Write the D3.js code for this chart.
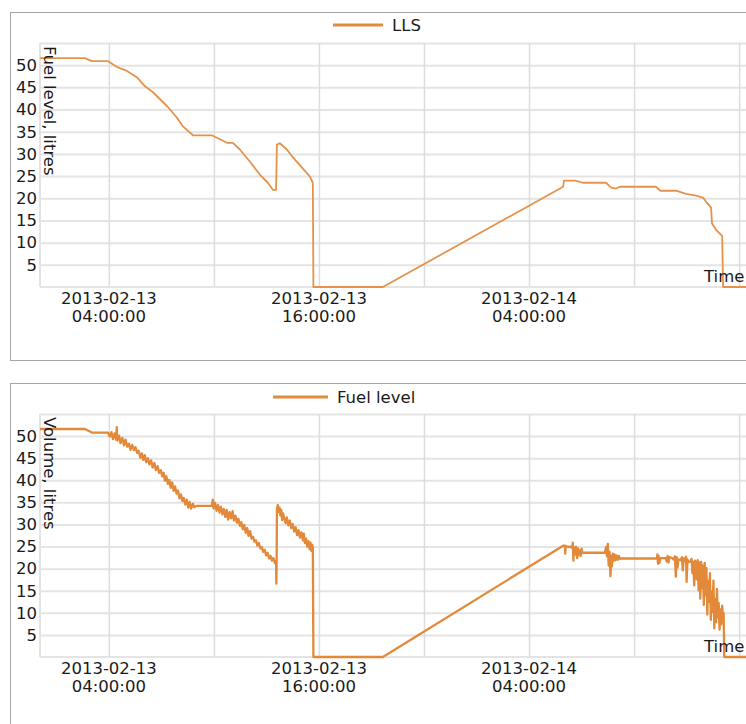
<!DOCTYPE html>
<html>
<head>
<meta charset="utf-8">
<script src="https://cdn.jsdelivr.net/npm/d3@7"></script>
<style>
  html, body { margin: 0; background: #fff; overflow: hidden; }
  svg { display: block; font-family: "DejaVu Sans", Verdana, sans-serif; }
</style>
</head>
<body>
<svg id="chart" width="746" height="724"></svg>
<script>
// Times are minutes after 2013-02-13 00:00, values are litres.
const llsSeries = [
  [4, 51.6], [158, 51.6], [182, 50.9], [237, 50.9], [271, 49.5], [302, 48.7],
  [336, 47.3], [363, 45.3], [391, 43.9], [439, 40.8], [473, 38.2], [494, 36.2],
  [528, 34.2], [593, 34.2], [621, 33.3], [645, 32.5], [665, 32.5], [689, 31.0],
  [723, 28.3], [758, 25.3], [785, 23.5], [802, 21.9], [813, 21.9], [816, 32.1],
  [826, 32.4], [850, 31.0], [871, 29.2], [902, 26.9], [929, 24.9], [939, 23.5],
  [941, 0], [1179, 0], [1797, 22.6], [1800, 24.0], [1838, 24.0], [1865, 23.5],
  [1944, 23.5], [1961, 22.4], [1978, 22.2], [1992, 22.6], [2115, 22.6], [2129, 21.7],
  [2184, 21.7], [2218, 21.0], [2253, 20.6], [2277, 20.1], [2287, 19.2], [2304, 17.9],
  [2307, 14.3], [2321, 12.9], [2342, 11.5], [2345, 0], [2475, 0]
];

const fuelSeries = [
  [4, 51.6], [158, 51.6], [182, 50.8], [237, 50.8], [243, 49.9], [249, 50.9],
  [254, 49.3], [260, 50.6], [265, 49.2], [267, 52.0], [269, 49.0], [275, 50.1],
  [280, 48.4], [286, 49.6], [292, 47.9], [297, 49.2], [303, 47.6], [309, 48.3],
  [314, 46.9], [320, 48.0], [326, 46.8], [331, 47.5], [337, 46.2], [342, 46.7],
  [348, 45.1], [353, 46.1], [358, 44.6], [363, 45.7], [368, 44.1], [374, 45.0],
  [379, 43.6], [385, 44.5], [390, 42.9], [396, 43.9], [401, 42.3], [407, 43.2],
  [412, 41.7], [418, 42.3], [423, 40.9], [428, 41.7], [432, 39.9], [437, 40.9],
  [442, 39.2], [447, 40.1], [452, 38.3], [457, 39.5], [462, 37.6], [467, 38.6],
  [472, 37.0], [477, 37.7], [482, 35.9], [487, 36.8], [492, 35.3], [497, 36.0],
  [502, 34.5], [507, 35.6], [512, 33.8], [517, 35.1], [522, 33.6], [528, 34.7],
  [533, 33.9], [540, 34.2], [593, 34.2], [596, 35.6], [599, 33.6], [604, 34.9],
  [609, 33.1], [614, 34.4], [619, 32.7], [624, 34.0], [629, 32.3], [634, 33.5],
  [639, 31.7], [644, 33.3], [649, 31.1], [654, 32.8], [659, 31.4], [664, 33.0],
  [669, 30.9], [674, 32.0], [679, 30.4], [684, 31.3], [689, 29.7], [694, 30.5],
  [699, 28.9], [704, 29.9], [709, 28.1], [714, 29.2], [719, 27.4], [724, 28.5],
  [729, 26.8], [734, 27.2], [739, 26.1], [744, 26.4], [749, 25.2], [754, 25.8],
  [759, 24.6], [764, 24.9], [769, 23.8], [774, 24.3], [779, 23.0], [784, 23.6],
  [789, 22.3], [794, 22.9], [799, 21.8], [804, 22.4], [809, 21.3], [813, 21.8],
  [814, 16.6], [815, 21.2], [816, 33.5], [819, 34.4], [822, 32.8], [825, 33.8],
  [828, 32.0], [831, 33.3], [834, 31.0], [837, 32.5], [842, 31.2], [846, 30.3],
  [850, 31.6], [855, 29.8], [860, 30.9], [865, 29.2], [870, 30.1], [875, 28.4],
  [880, 29.4], [885, 27.6], [890, 28.7], [895, 27.0], [900, 28.2], [905, 26.4],
  [908, 27.9], [912, 25.8], [916, 26.8], [920, 25.0], [924, 26.2], [928, 24.4],
  [931, 25.9], [934, 24.0], [937, 25.4], [939, 24.9], [941, 0], [1179, 0],
  [1797, 25.2], [1803, 25.2], [1804, 23.4], [1806, 25.1], [1815, 24.9], [1822, 25.0],
  [1828, 24.6], [1830, 25.9], [1832, 21.8], [1834, 24.8], [1838, 23.2], [1841, 25.0],
  [1845, 22.4], [1848, 24.6], [1851, 23.2], [1854, 24.1], [1857, 22.9], [1860, 24.5],
  [1863, 23.6], [1866, 23.6], [1940, 23.6], [1944, 24.9], [1947, 22.8], [1950, 25.6],
  [1953, 20.7], [1956, 23.8], [1959, 18.3], [1962, 22.9], [1964, 20.5], [1967, 23.4],
  [1970, 21.8], [1973, 23.2], [1976, 21.9], [1980, 23.0], [1984, 22.0], [1988, 22.9],
  [1992, 22.2], [1997, 22.3], [2118, 22.3], [2120, 23.2], [2122, 21.1], [2124, 22.9],
  [2127, 21.3], [2130, 22.4], [2148, 22.4], [2152, 21.6], [2155, 22.9], [2158, 21.4],
  [2161, 22.6], [2170, 22.4], [2176, 22.0], [2180, 22.8], [2183, 18.2], [2186, 22.6],
  [2189, 20.3], [2192, 22.1], [2200, 21.9], [2204, 22.6], [2207, 19.6], [2210, 22.3],
  [2214, 21.8], [2218, 22.7], [2220, 17.0], [2223, 22.1], [2226, 21.5], [2233, 21.6],
  [2237, 22.2], [2240, 19.0], [2243, 21.5], [2246, 16.2], [2249, 21.8], [2252, 21.2],
  [2255, 17.6], [2258, 21.9], [2261, 15.1], [2264, 21.4], [2267, 13.2], [2270, 21.5],
  [2273, 15.6], [2276, 20.7], [2279, 11.8], [2282, 21.3], [2285, 14.0], [2288, 20.1],
  [2291, 9.6], [2294, 17.2], [2297, 12.5], [2300, 19.0], [2303, 8.4], [2306, 14.8],
  [2309, 10.2], [2312, 17.3], [2315, 6.5], [2318, 13.1], [2321, 7.9], [2324, 15.4],
  [2327, 9.0], [2330, 12.2], [2333, 6.2], [2336, 10.8], [2339, 7.4], [2342, 11.6],
  [2345, 8.3], [2347, 9.9], [2349, 0], [2475, 0]
];

const yTickValues = [5, 10, 15, 20, 25, 30, 35, 40, 45, 50];
const yGridValues = [5, 10, 15, 20, 25, 30, 35, 40, 45, 50, 55];
const xGridTimes = [
  "2013-02-13 04:00", "2013-02-13 10:00", "2013-02-13 16:00", "2013-02-13 22:00",
  "2013-02-14 04:00", "2013-02-14 10:00", "2013-02-14 16:00"
];
const xLabelTimes = ["2013-02-13 04:00", "2013-02-13 16:00", "2013-02-14 04:00"];
const xDomain = ["2013-02-13 00:04", "2013-02-14 17:15"];

const parseTime = d3.timeParse("%Y-%m-%d %H:%M");
const dayStart = new Date(2013, 1, 13, 0, 0);
const atMinute = m => new Date(dayStart.getTime() + m * 60000);

const ORANGE = "#e3893a";
const FONT = 16.5;
const svg = d3.select("#chart");

function drawPanel(cfg) {
  const g = svg.append("g");

  // frame
  g.append("rect")
    .attr("x", 10.5).attr("y", cfg.frameTop + 0.5)
    .attr("width", 900).attr("height", cfg.frameHeight)
    .attr("fill", "#fff").attr("stroke", "#a6a6a6").attr("stroke-width", 1);

  const x = d3.scaleTime()
    .domain(xDomain.map(parseTime))
    .range([40, 761]);
  const y = d3.scaleLinear()
    .domain([0, 55])
    .range([cfg.plotBottom, cfg.plotTop]);

  // horizontal grid
  g.append("g")
    .attr("transform", "translate(40,0)")
    .call(d3.axisLeft(y).tickValues(yGridValues).tickSize(-760).tickFormat(""))
    .call(a => a.select(".domain").remove())
    .call(a => a.selectAll("line").attr("stroke", "#e4e4e4").attr("stroke-width", 2));

  // vertical grid
  g.append("g")
    .attr("transform", `translate(0,${cfg.plotBottom})`)
    .call(d3.axisBottom(x).tickValues(xGridTimes.map(parseTime))
      .tickSize(-(cfg.plotBottom - cfg.plotTop)).tickFormat(""))
    .call(a => a.select(".domain").remove())
    .call(a => a.selectAll("line").attr("stroke", "#dddddd").attr("stroke-width", 1.5));

  // plot edges
  g.append("line").attr("x1", 40).attr("x2", 40)
    .attr("y1", cfg.plotTop).attr("y2", cfg.plotBottom)
    .attr("stroke", "#e4e4e4").attr("stroke-width", 2);
  g.append("line").attr("x1", 40).attr("x2", 800)
    .attr("y1", cfg.plotBottom).attr("y2", cfg.plotBottom)
    .attr("stroke", "#e4e4e4").attr("stroke-width", 2);

  // y tick labels
  g.append("g")
    .attr("transform", "translate(40,0)")
    .call(d3.axisLeft(y).tickValues(yTickValues).tickSize(0).tickPadding(3))
    .call(a => a.select(".domain").remove())
    .call(a => a.selectAll("text")
      .attr("font-size", FONT).attr("font-family", "DejaVu Sans, sans-serif")
      .attr("fill", "#1a1a1a"));

  // x tick labels, date over time
  const fmtDate = d3.timeFormat("%Y-%m-%d");
  const fmtClock = d3.timeFormat("%H:%M:%S");
  const labels = g.append("g").selectAll("text")
    .data(xLabelTimes.map(parseTime))
    .join("text")
    .attr("text-anchor", "middle")
    .attr("font-size", FONT)
    .attr("fill", "#1a1a1a");
  labels.append("tspan")
    .attr("x", d => x(d)).attr("y", cfg.plotBottom + 17)
    .text(fmtDate);
  labels.append("tspan")
    .attr("x", d => x(d)).attr("y", cfg.plotBottom + 34.5)
    .text(fmtClock);

  // series line
  const clipId = "clip" + cfg.plotTop;
  svg.append("clipPath").attr("id", clipId)
    .append("rect").attr("x", 40).attr("y", cfg.plotTop - 3)
    .attr("width", 760).attr("height", cfg.plotBottom - cfg.plotTop + 6);

  const line = d3.line()
    .x(d => x(atMinute(d[0])))
    .y(d => y(d[1]));
  g.append("path")
    .datum(cfg.series)
    .attr("clip-path", `url(#${clipId})`)
    .attr("fill", "none")
    .attr("stroke", cfg.color)
    .attr("stroke-width", cfg.lineWidth)
    .attr("stroke-linejoin", "round")
    .attr("d", line);

  // axis titles
  g.append("text")
    .attr("transform", `translate(44,${cfg.plotTop + 3}) rotate(90)`)
    .attr("font-size", FONT)
    .attr("fill", "#1a1a1a")
    .text(cfg.yTitle);
  g.append("text")
    .attr("x", 704).attr("y", cfg.plotBottom - 5)
    .attr("font-size", FONT)
    .attr("fill", "#1a1a1a")
    .text("Time");

  // legend
  g.append("line")
    .attr("x1", cfg.legendX).attr("x2", cfg.legendX + cfg.legendLen)
    .attr("y1", cfg.legendY).attr("y2", cfg.legendY)
    .attr("stroke", ORANGE).attr("stroke-width", 3);
  g.append("text")
    .attr("x", cfg.legendX + cfg.legendLen + 9).attr("y", cfg.legendY + 6)
    .attr("font-size", FONT)
    .attr("fill", "#1a1a1a")
    .text(cfg.legendText);
}

drawPanel({
  frameTop: 12, frameHeight: 348,
  plotTop: 43, plotBottom: 287,
  series: llsSeries, color: "#e6924a", lineWidth: 1.8,
  yTitle: "Fuel level, litres",
  legendX: 333, legendLen: 50, legendY: 25, legendText: "LLS"
});

drawPanel({
  frameTop: 383, frameHeight: 400,
  plotTop: 414, plotBottom: 657,
  series: fuelSeries, color: ORANGE, lineWidth: 2.3,
  yTitle: "Volume, litres",
  legendX: 273, legendLen: 55, legendY: 397, legendText: "Fuel level"
});
</script>
</body>
</html>
